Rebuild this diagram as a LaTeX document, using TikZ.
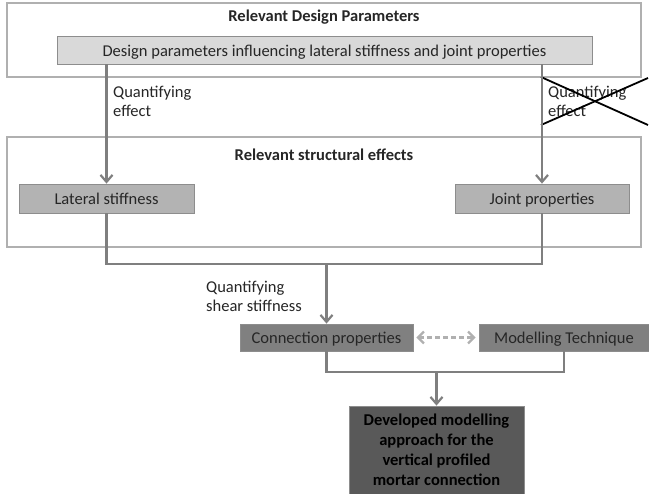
\documentclass[tikz,border=0pt]{standalone}
\usepackage{fontspec}
\setmainfont{Carlito}
\usetikzlibrary{arrows.meta}
\definecolor{framegray}{HTML}{B0B0B0}
\definecolor{linegray}{HTML}{7F7F7F}
\definecolor{lightfill}{HTML}{D9D9D9}
\definecolor{midfill}{HTML}{B3B3B3}
\definecolor{darkfill}{HTML}{808080}
\definecolor{deepfill}{HTML}{595959}
\definecolor{textgray}{HTML}{262626}
\tikzset{
  frame/.style={draw=framegray, line width=1.4pt, fill=white, inner sep=0pt},
  box/.style={draw=framegray!80!black, line width=0.8pt, inner sep=0pt, align=center,
    font=\fontsize{16.5}{19}\selectfont, text=textgray},
  onebox/.style={box, text height=14pt, text depth=1.5pt},
  header/.style={font=\bfseries\fontsize{16.5}{19}\selectfont, text=textgray},
  note/.style={font=\fontsize{16.5}{19}\selectfont, text=textgray, align=left, anchor=west, inner sep=0pt},
  conn/.style={draw=linegray, line width=2.2pt},
  arr/.style={conn, -{Straight Barb[length=7pt, width=12pt, line width=2.2pt]}},
  dasharr/.style={draw=framegray, line width=2.2pt, dash pattern=on 5pt off 3pt,
    {Straight Barb[length=6pt, width=12pt, line width=2.2pt]}-{Straight Barb[length=6pt, width=12pt, line width=2.2pt]}},
}
\begin{document}
\begin{tikzpicture}[x=1pt, y=-1pt]
  \useasboundingbox[fill=white] (0,0) rectangle (649,494);

  % design parameter group
  \node[frame, minimum width=634pt, minimum height=74pt] (top) at (324,40) {};
  \node[header] (toph) at (324,17) {Relevant Design Parameters};
  \node[onebox, fill=lightfill, minimum width=535pt, minimum height=28pt] (param) at (324.5,50)
    {Design parameters influencing lateral stiffness and joint properties};

  % structural effects group
  \node[frame, minimum width=634pt, minimum height=110pt] (mid) at (324,192) {};
  \node[header] (midh) at (324,155) {Relevant structural effects};
  \node[onebox, fill=midfill, minimum width=175pt, minimum height=29pt] (lat) at (106.5,198.5) {Lateral stiffness};
  \node[onebox, fill=midfill, minimum width=174pt, minimum height=29pt] (joint) at (542,198.5) {Joint properties};

  % connection and modelling
  \node[onebox, fill=darkfill, text=black!85, minimum width=173pt, minimum height=27pt] (conn) at (326.5,337.5) {Connection properties};
  \node[onebox, fill=darkfill, text=black!85, minimum width=170pt, minimum height=27pt] (model) at (564,337.5) {Modelling Technique};
  \node[box, fill=deepfill, text=black, font=\bfseries\fontsize{16.5}{20}\selectfont,
    minimum width=175pt, minimum height=88pt] (final) at (436.5,450)
    {Developed modelling\\approach for the\\vertical profiled\\mortar connection};

  % labels
  \node[note] (qe1) at (113,101) {Quantifying\\effect};
  \node[note] (qe2) at (548,101) {Quantifying\\effect};
  \node[note] (qs) at (206,296) {Quantifying\\shear stiffness};

  % crossed-out label
  \coordinate (x1) at (541,77);
  \coordinate (x2) at (648,125);
  \coordinate (x3) at (541,125);
  \coordinate (x4) at (648,78);
  \draw[black, line width=1.8pt] (x1) -- (x2);
  \draw[black, line width=1.8pt] (x3) -- (x4);

  % connectors
  \draw[arr] (lat.north |- param.south) -- (lat.north);
  \draw[arr] (joint.north |- param.south) -- (joint.north);

  \coordinate (j1) at (conn.north |- 0,264);
  \draw[conn] (lat.south) |- (j1) -| (joint.south);
  \draw[arr] (j1) -- (conn.north);

  \draw[dasharr] ([xshift=3pt]conn.east) -- ([xshift=-3pt]model.west);

  \coordinate (j2) at (final.north |- 0,372);
  \draw[conn] (conn.south) |- (j2) -| (model.south);
  \draw[arr] (j2) -- (final.north);
\end{tikzpicture}
\end{document}
